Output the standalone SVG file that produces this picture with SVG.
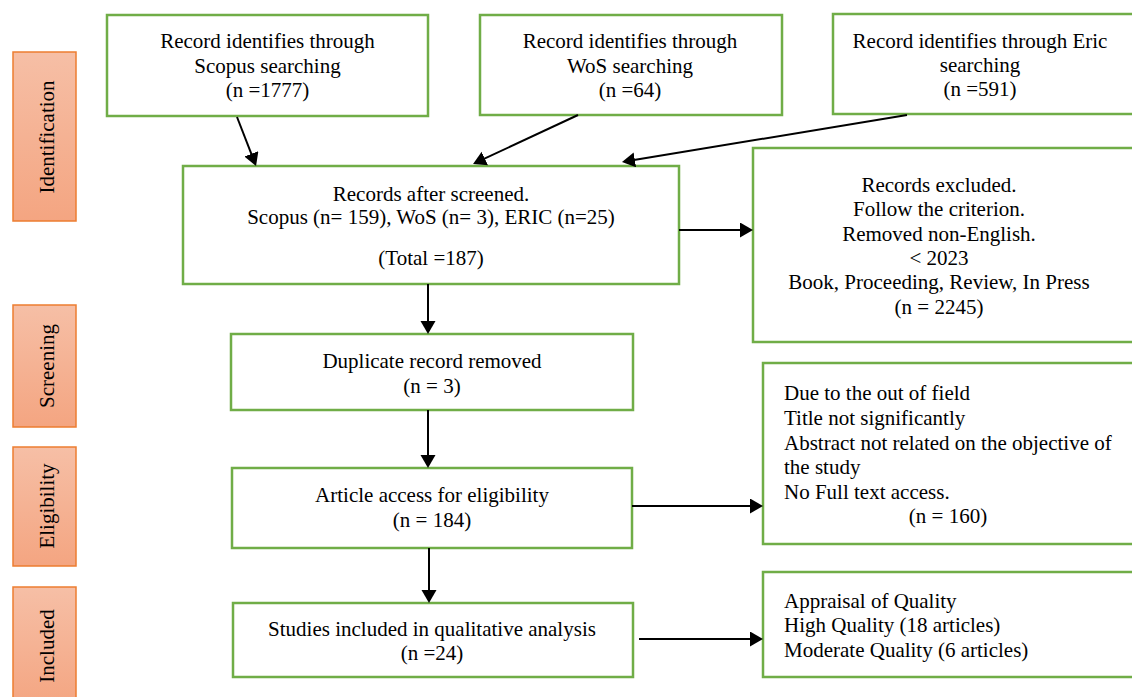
<svg xmlns="http://www.w3.org/2000/svg" width="1132" height="697" viewBox="0 0 1132 697">
<defs>
<linearGradient id="lg" x1="0" y1="0" x2="0" y2="1">
<stop offset="0" stop-color="#F6BFA6"/>
<stop offset="1" stop-color="#F4A581"/>
</linearGradient>
<marker id="ah" markerUnits="userSpaceOnUse" markerWidth="16" markerHeight="16" refX="4" refY="7.5" orient="auto">
<path d="M0,0 L13,7.5 L0,15 z" fill="#000"/>
</marker>
</defs>
<style>
.box{fill:#fff;stroke:#70AD47;stroke-width:2.5}
.lab{fill:url(#lg);stroke:#ED7D31;stroke-width:1.5}
text{font-family:"Liberation Serif","Times New Roman",serif;font-size:21px;fill:#000}
.c{text-anchor:middle}
.conn{stroke:#000;stroke-width:2;fill:none;marker-end:url(#ah)}
</style>
<rect width="1132" height="697" fill="#fff"/>

<g id="stage-identification">
<rect class="lab" x="13" y="52" width="63" height="169"/>
<text class="c" transform="translate(54,137) rotate(-90)">Identification</text>
</g>
<g id="stage-screening">
<rect class="lab" x="13" y="305" width="63" height="122"/>
<text class="c" transform="translate(54,366) rotate(-90)">Screening</text>
</g>
<g id="stage-eligibility">
<rect class="lab" x="13" y="447" width="63" height="119"/>
<text class="c" transform="translate(54,506) rotate(-90)">Eligibility</text>
</g>
<g id="stage-included">
<rect class="lab" x="13" y="587" width="63" height="120"/>
<text class="c" transform="translate(54,646) rotate(-90)">Included</text>
</g>

<g id="scopus">
<rect class="box" x="107" y="15" width="321" height="101"/>
<text class="c" x="267.5" y="48">Record identifies through</text>
<text class="c" x="267.5" y="73">Scopus searching</text>
<text class="c" x="267.5" y="97">(n =1777)</text>
</g>
<g id="wos">
<rect class="box" x="480" y="15" width="302" height="100"/>
<text class="c" x="630" y="48">Record identifies through</text>
<text class="c" x="630" y="73">WoS searching</text>
<text class="c" x="630" y="97">(n =64)</text>
</g>
<g id="eric">
<rect class="box" x="833" y="14" width="320" height="100"/>
<text class="c" x="980" y="48">Record identifies through Eric</text>
<text class="c" x="980" y="72">searching</text>
<text class="c" x="980" y="96">(n =591)</text>
</g>
<g id="screened">
<rect class="box" x="183" y="166" width="496" height="118"/>
<text class="c" x="431" y="201">Records after screened.</text>
<text class="c" x="431" y="224">Scopus (n= 159), WoS (n= 3), ERIC (n=25)</text>
<text class="c" x="431" y="265">(Total =187)</text>
</g>
<g id="excluded">
<rect class="box" x="753" y="148" width="400" height="194"/>
<text class="c" x="939" y="192">Records excluded.</text>
<text class="c" x="939" y="216">Follow the criterion.</text>
<text class="c" x="939" y="241">Removed non-English.</text>
<text class="c" x="939" y="265">&lt; 2023</text>
<text class="c" x="939" y="289">Book, Proceeding, Review, In Press</text>
<text class="c" x="939" y="314">(n = 2245)</text>
</g>
<g id="duplicate">
<rect class="box" x="231" y="334" width="402" height="76"/>
<text class="c" x="432" y="368">Duplicate record removed</text>
<text class="c" x="432" y="393">(n = 3)</text>
</g>
<g id="article">
<rect class="box" x="232" y="468" width="400" height="80"/>
<text class="c" x="432" y="502">Article access for eligibility</text>
<text class="c" x="432" y="527">(n = 184)</text>
</g>
<g id="studies">
<rect class="box" x="233" y="603" width="400" height="74"/>
<text class="c" x="432" y="636">Studies included in qualitative analysis</text>
<text class="c" x="432" y="660">(n =24)</text>
</g>
<g id="outfield">
<rect class="box" x="763" y="363" width="390" height="181"/>
<text x="784" y="400">Due to the out of field</text>
<text x="784" y="425">Title not significantly</text>
<text x="784" y="450">Abstract not related on the objective of</text>
<text x="784" y="474">the study</text>
<text x="784" y="499">No Full text access.</text>
<text class="c" x="948" y="523">(n = 160)</text>
</g>
<g id="appraisal">
<rect class="box" x="763" y="572" width="390" height="105"/>
<text x="784" y="608">Appraisal of Quality</text>
<text x="784" y="632">High Quality (18 articles)</text>
<text x="784" y="657">Moderate Quality (6 articles)</text>
</g>

<g id="connectors">
<path class="conn" d="M237,117 L252.8,157.6"/>
<path class="conn" d="M578,115 L481.2,160.2"/>
<path class="conn" d="M907,115 L630.9,160.5"/>
<path class="conn" d="M679,230 L744,230"/>
<path class="conn" d="M428,284 L428,325"/>
<path class="conn" d="M428,410 L428,459"/>
<path class="conn" d="M429,548 L429,594"/>
<path class="conn" d="M632,506 L754,506"/>
<path class="conn" d="M639,639 L754,639"/>
</g>
</svg>
